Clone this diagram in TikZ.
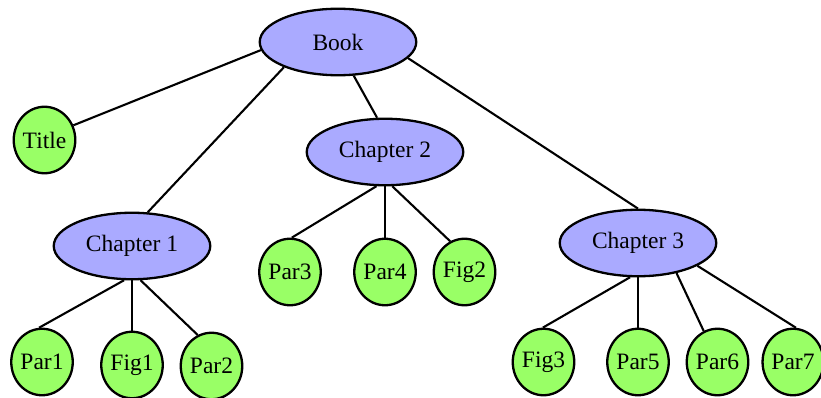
\documentclass[tikz,border=0pt]{standalone}
\usepackage{fontspec}
\setmainfont{Liberation Serif}
\usetikzlibrary{shapes.geometric}
\definecolor{partfill}{HTML}{AAAAFF}
\definecolor{leaffill}{HTML}{99FF66}
\tikzset{
  part/.style={ellipse, draw=black, line width=2.3pt, fill=partfill,
    minimum width=156.5pt, minimum height=66.5pt, inner sep=0pt},
  leaf/.style={ellipse, draw=black, line width=2.3pt, fill=leaffill,
    minimum width=61.5pt, minimum height=66.5pt, inner sep=0pt},
  link/.style={draw=black, line width=2.1pt}
}
\begin{document}
\begin{tikzpicture}[x=1pt, y=-1pt, font=\fontsize{23.5}{27}\selectfont]
\useasboundingbox (0,0) rectangle (821,398);

% top level
\node[part] (book) at (338,42) {Book};
\node[leaf, minimum width=61pt] (title) at (44.5,140) {Title};

% chapters
\node[part] (ch1) at (132,246) {Chapter 1};
\node[part] (ch2) at (385,152) {Chapter 2};
\node[part] (ch3) at (638,243) {Chapter 3};

% chapter 2 contents
\node[leaf] (par3) at (290,272) {Par3};
\node[leaf] (par4) at (385,272) {Par4};
\node[leaf] (fig2) at (464.5,272) {Fig2};

% chapter 1 contents
\node[leaf] (par1) at (42,362) {Par1};
\node[leaf] (fig1) at (132,365) {Fig1};
\node[leaf] (par2) at (211.5,366) {Par2};

% chapter 3 contents
\node[leaf] (fig3) at (543.5,362) {Fig3};
\node[leaf] (par5) at (638,362) {Par5};
\node[leaf] (par6) at (717.5,362) {Par6};
\node[leaf, minimum width=54pt] (par7) at (793,362) {Par7};

% edges
\draw[link] (book.186) -- (title.27);
\draw[link] (book.205) -- (ch1.65);
\draw[link] (book.295) -- (ch2.103);
\draw[link] (book.347) -- (ch3.90);

\draw[link] (ch2.256) -- (par3.87);
\draw[link] (ch2.270) -- (par4.90);
\draw[link] (ch2.282) -- (fig2.115);

\draw[link] (ch1.257) -- (par1.95);
\draw[link] (ch1.270) -- (fig1.90);
\draw[link] (ch1.284) -- (par2.114);

\draw[link] (ch3.257) -- (fig3.91);
\draw[link] (ch3.270) -- (par5.90);
\draw[link] (ch3.322) -- (par6.114);
\draw[link] (ch3.339) -- (par7.85);
\end{tikzpicture}
\end{document}
